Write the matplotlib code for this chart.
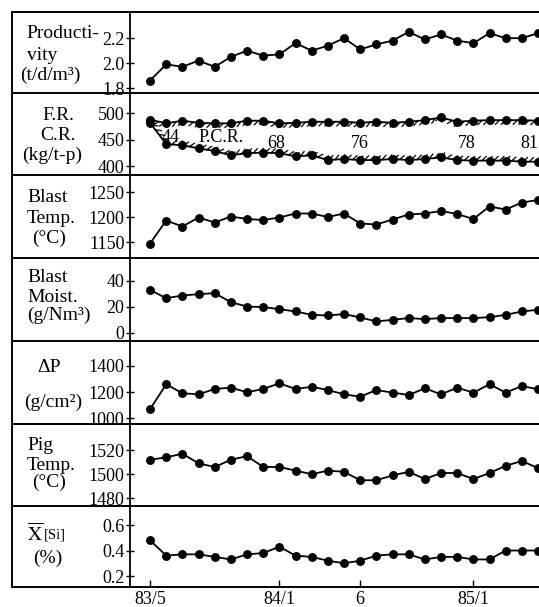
'''
Monthly blast furnace operation trend, 83/5 - 85/5.
'''

import numpy as np
import matplotlib.pyplot as plt
import matplotlib.patheffects as pe
from matplotlib.lines import Line2D

plt.rcParams['font.family'] = ['Liberation Serif', 'DejaVu Serif']
plt.rcParams['mathtext.fontset'] = 'stix'

# one point per month, 83/5 .. 85/5
months = np.arange(25)
month_ticks = [0, 8, 13, 20]
month_labels = ['83/5', '84/1', '6', '85/1']

productivity = [1.86, 1.99, 1.97, 2.02, 1.97, 2.05, 2.10, 2.06, 2.07, 2.16, 2.10, 2.14, 2.20,
                2.11, 2.15, 2.18, 2.25, 2.19, 2.23, 2.18, 2.16, 2.24, 2.20, 2.20, 2.24]
fuel_rate = [488, 481, 486, 482, 481, 481, 486, 486, 481, 482, 484, 484, 484,
             482, 484, 482, 484, 487, 492, 484, 486, 487, 487, 487, 486]
coke_rate = [482, 442, 440, 434, 429, 421, 425, 426, 425, 419, 421, 412, 414,
             412, 412, 414, 412, 414, 417, 412, 411, 411, 411, 409, 409]
blast_temp = [1147, 1193, 1181, 1199, 1189, 1201, 1196, 1194, 1199, 1207, 1207, 1200, 1207,
              1187, 1185, 1195, 1205, 1207, 1212, 1206, 1196, 1221, 1215, 1229, 1234]
blast_moist = [33.0, 26.7, 28.7, 29.8, 30.5, 23.6, 20.2, 19.8, 18.2, 16.4, 13.8, 13.3, 14.4,
               11.8, 8.7, 10.0, 11.3, 10.5, 11.3, 11.3, 11.3, 12.0, 13.8, 16.4, 17.7]
delta_p = [1069, 1260, 1191, 1183, 1224, 1234, 1199, 1224, 1267, 1224, 1241, 1216, 1183,
           1165, 1216, 1196, 1178, 1229, 1183, 1234, 1196, 1260, 1196, 1247, 1221]
pig_temp = [1512, 1514, 1517, 1509, 1506, 1512, 1515, 1506, 1506, 1503, 1500, 1503, 1502,
            1495, 1495, 1499, 1502, 1496, 1501, 1501, 1496, 1501, 1507, 1511, 1505]
si = [0.48, 0.36, 0.37, 0.37, 0.35, 0.33, 0.37, 0.38, 0.43, 0.36, 0.35, 0.32, 0.30,
      0.32, 0.36, 0.37, 0.37, 0.33, 0.35, 0.35, 0.33, 0.33, 0.40, 0.40, 0.40]

# pulverized coal rate notes on the F.R./C.R. panel
pcr_months = [1.25, 7.8, 13, 19.6, 24.05]
pcr_values = ['44', '68', '76', '78', '81']

W, H = 539, 607
fig = plt.figure(figsize=(W / 100, H / 100), dpi=100)


def fx(px):
    return px / W


def fy(py):
    return 1 - py / H


edges = [12, 93, 175, 258, 341, 424, 506, 587]
x0 = 130

panels = [
    (productivity, (1.76, 2.41), [1.8, 2.0, 2.2], ['1.8', '2.0', '2.2']),
    (None, (384, 538), [400, 450, 500], ['400', '450', '500']),
    (blast_temp, (1118, 1284), [1150, 1200, 1250], ['1150', '1200', '1250']),
    (blast_moist, (-6.4, 57.7), [0, 20, 40], ['0', '20', '40']),
    (delta_p, (956, 1591), [1000, 1200, 1400], ['1000', '1200', '1400']),
    (pig_temp, (1473.6, 1541.7), [1480, 1500, 1520], ['1480', '1500', '1520']),
    (si, (0.114, 0.749), [0.2, 0.4, 0.6], ['0.2', '0.4', '0.6']),
]

axes = []
for k, (vals, ylim, yt, ytl) in enumerate(panels):
    top, bot = edges[k], edges[k + 1]
    ax = fig.add_axes([fx(x0), fy(bot), 1 - fx(x0), (bot - top) / H])
    ax.set_xlim(-1.24, 24.06)
    ax.set_ylim(*ylim)
    for s in ['top', 'bottom', 'right']:
        ax.spines[s].set_visible(False)
    ax.spines['left'].set_linewidth(1.3)
    ax.set_yticks(yt)
    ax.set_yticklabels(ytl)
    ax.tick_params(axis='y', direction='inout', length=6, width=1.0, pad=1, labelsize=13)
    ax.set_xticks([])
    ax.patch.set_alpha(0)
    if vals is not None:
        ax.plot(months, vals, '-o', color='k', lw=1.3, ms=5.4)
    axes.append(ax)

# F.R. / C.R. band with hatched edges
ax = axes[1]
ax.plot(months, fuel_rate, '-', color='k', lw=1.3,
        path_effects=[pe.withTickedStroke(angle=-135, spacing=4.2, length=1.0, linewidth=0.9)])
ax.plot(months, coke_rate, '-', color='k', lw=1.3,
        path_effects=[pe.withTickedStroke(angle=45, spacing=4.2, length=1.0, linewidth=0.9)])
ax.plot(months, fuel_rate, 'o', color='k', ms=5.4)
ax.plot(months, coke_rate, 'o', color='k', ms=5.4)
ax.text(pcr_months[0], 455, pcr_values[0], fontsize=13, ha='center', va='center')
ax.text(4.4, 455, 'P.C.R.', fontsize=13, ha='center', va='center')
for m, v in zip(pcr_months[1:-1], pcr_values[1:-1]):
    ax.text(m, 444, v, fontsize=13, ha='center', va='center')
ax.text(pcr_months[-1], 444, pcr_values[-1], fontsize=13, ha='right', va='center')

# bottom axis
ax = axes[-1]
ax.set_xticks(month_ticks)
ax.set_xticklabels(month_labels)
ax.tick_params(axis='x', direction='in', length=5, width=1.0, pad=3, labelsize=13)

# frame lines
for e in edges:
    fig.add_artist(Line2D([fx(12), 1], [fy(e), fy(e)], color='k', lw=1.4))
fig.add_artist(Line2D([fx(12), fx(12)], [fy(12), fy(587)], color='k', lw=1.4))

# row labels
fs = 14
labels = [
    ('Producti-', 26, 34, 'left'), ('vity', 27, 56, 'left'), ('(t/d/m³)', 20, 75, 'left'),
    ('F.R.', 58, 115, 'center'), ('C.R.', 58, 135, 'center'), ('(kg/t-p)', 52, 155, 'center'),
    ('Blast', 27, 197, 'left'), ('Temp.', 27, 218, 'left'), ('(°C)', 32, 238, 'left'),
    ('Blast', 27, 278, 'left'), ('Moist.', 27, 297, 'left'), ('(g/Nm³)', 27, 315, 'left'),
    ('ΔP', 37, 368, 'left'), ('(g/cm²)', 24, 402, 'left'),
    ('Pig', 27, 445, 'left'), ('Temp.', 27, 465, 'left'), ('(°C)', 32, 482, 'left'),
    ('(%)', 33, 558, 'left'),
]
for txt, px, py, ha in labels:
    fig.text(fx(px), fy(py), txt, fontsize=fs, ha=ha, va='center')
fig.text(fx(27), fy(533), r'$\overline{\mathrm{X}}$', fontsize=fs, ha='left', va='center')
fig.text(fx(44), fy(535), '[Si]', fontsize=10.5, ha='left', va='center')

fig.savefig('out.png', dpi=100)
